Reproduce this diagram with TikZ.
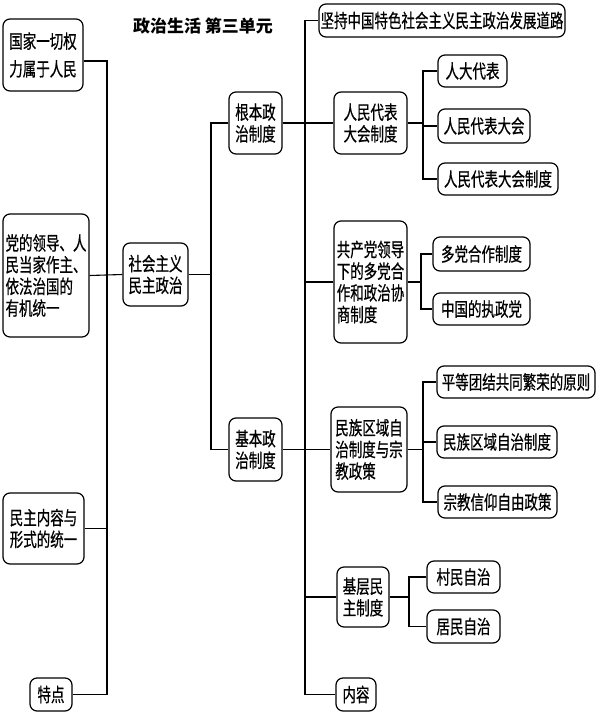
\documentclass[tikz,border=0pt]{standalone}
\usepackage{fontspec}
\setmainfont{Noto Sans CJK SC}[FakeStretch=0.71,FakeBold=0.6]
\newfontfamily\titlefont{Noto Sans CJK SC}
\begin{document}
\begin{tikzpicture}[x=1pt,y=-1pt,
  box/.style={draw=black, line width=1.2pt, rounded corners=7pt, fill=white,
    inner sep=1pt, align=left, font=\fontsize{19}{21.7}\selectfont},
  conn/.style={line width=1.1pt, draw=black}]
\useasboundingbox (0,0) rectangle (597,713);
\node[font=\titlefont\bfseries\fontsize{17}{19}\selectfont] (title) at (203,26) {政治生活 第三单元};
% left column
\node[box, minimum width=80, minimum height=72] (A1) at (43,55) {国家一切权\\[6pt]力属于人民};
\node[box, minimum width=86, minimum height=123] (A2) at (46,275.5) {党的领导、人\\民当家作主、\\依法治国的\\有机统一};
\node[box, minimum width=81, minimum height=71] (A3) at (43.5,528.5) {民主内容与\\形式的统一};
\node[box, minimum width=42, minimum height=33] (A4) at (51,694.5) {特点};
% root
\node[box, minimum width=65, minimum height=63] (R) at (155.5,274.5) {社会主义\\民主政治};
% second level
\node[box, minimum width=53, minimum height=62] (B1) at (255.5,123) {根本政\\治制度};
\node[box, minimum width=53, minimum height=63] (B2) at (255.5,449.5) {基本政\\治制度};
% third level
\node[box, minimum width=246, minimum height=33] (C0) at (442,20.5) {坚持中国特色社会主义民主政治发展道路};
\node[box, minimum width=73, minimum height=62] (C1) at (370.5,123) {人民代表\\大会制度};
\node[box, minimum width=73, minimum height=122] (C2) at (370.5,282) {共产党领导\\下的多党合\\作和政治协\\商制度};
\node[box, minimum width=76, minimum height=85] (C3) at (369,449.5) {民族区域自\\治制度与宗\\教政策};
\node[box, minimum width=52, minimum height=60] (C4) at (363,597) {基层民\\主制度};
\node[box, minimum width=40, minimum height=33] (C5) at (356,694.5) {内容};
% fourth level
\node[box, minimum width=69, minimum height=32] (D1) at (472.5,71) {人大代表};
\node[box, minimum width=92, minimum height=34] (D2) at (484,126) {人民代表大会};
\node[box, minimum width=120, minimum height=32] (D3) at (498,179) {人民代表大会制度};
\node[box, minimum width=97, minimum height=34] (D4) at (481.5,254) {多党合作制度};
\node[box, minimum width=97, minimum height=32] (D5) at (481.5,309) {中国的执政党};
\node[box, minimum width=158, minimum height=32] (D6) at (516,382) {平等团结共同繁荣的原则};
\node[box, minimum width=120, minimum height=32] (D7) at (497,442) {民族区域自治制度};
\node[box, minimum width=119, minimum height=32] (D8) at (497.5,502) {宗教信仰自由政策};
\node[box, minimum width=73, minimum height=32] (D9) at (463.5,577) {村民自治};
\node[box, minimum width=73, minimum height=33] (D10) at (463.5,626.5) {居民自治};
% spine coordinates
\coordinate (ls) at (107,0);
\coordinate (ms) at (211,0);
\coordinate (rs) at (305,0);
\coordinate (s1) at (423,0);
\coordinate (s2) at (421,0);
\coordinate (s3) at (423,0);
\coordinate (s4) at (409,0);
\coordinate (A1c) at ([yshift=-6pt]A1.east);
% left spine
\draw[conn] (A1c) -- (A1c -| ls) -- (A4.east -| ls) -- (A4.east);
\draw[conn] (A2.east) -- (R.west);
\draw[conn] (A3.east) -- (A3.east -| ls);
% middle spine
\draw[conn] (R.east) -- (R.east -| ms);
\draw[conn] (B1.west) -- (B1.west -| ms) -- (B2.west -| ms) -- (B2.west);
% right spine
\draw[conn] (C0.west) -- (C0.west -| rs) -- (C5.west -| rs) -- (C5.west);
\draw[conn] (B1.east) -- (C1.west);
\draw[conn] (B2.east) -- (C3.west);
\draw[conn] (C2.west) -- (C2.west -| rs);
\draw[conn] (C4.west) -- (C4.west -| rs);
% sub spines
\draw[conn] (C1.east) -- (C1.east -| s1);
\draw[conn] (D1.west) -- (D1.west -| s1) -- (D3.west -| s1) -- (D3.west);
\draw[conn] (D2.west) -- (D2.west -| s1);
\draw[conn] (C2.east) -- (C2.east -| s2);
\draw[conn] (D4.west) -- (D4.west -| s2) -- (D5.west -| s2) -- (D5.west);
\draw[conn] (C3.east) -- (C3.east -| s3);
\draw[conn] (D6.west) -- (D6.west -| s3) -- (D8.west -| s3) -- (D8.west);
\draw[conn] (D7.west) -- (D7.west -| s3);
\draw[conn] (C4.east) -- (C4.east -| s4);
\draw[conn] (D9.west) -- (D9.west -| s4) -- (D10.west -| s4) -- (D10.west);
\end{tikzpicture}
\end{document}
